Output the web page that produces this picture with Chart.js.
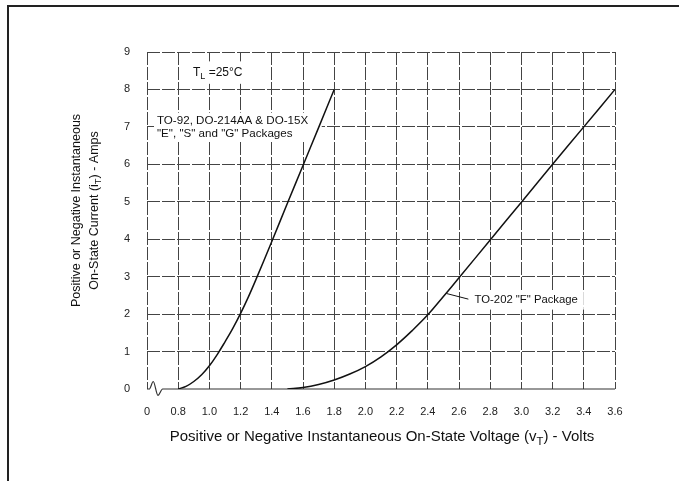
<!DOCTYPE html>
<html lang="en">
<head>
  <meta charset="UTF-8" />
  <title>On-State Current vs Voltage</title>
  <script src="https://cdn.jsdelivr.net/npm/chart.js"></script>
  <style>
    body { margin: 0; background: #fff; }
    .wrap { position: relative; width: 679px; height: 481px; overflow: hidden; }
    .frame {
      position: absolute; left: 7px; top: 5px; width: 700px; height: 500px;
      border-top: 2px solid #222; border-left: 2px solid #222;
    }
    canvas { position: absolute; left: 0; top: 0; }
  </style>
</head>
<body>
  <div class="wrap">
    <div class="frame"></div>
    <canvas id="chart" width="679" height="481"></canvas>
  </div>
  <script>
    // axis ticks (0.6 is the broken-axis origin, labelled "0")
    const xTickValues = [0.6, 0.8, 1.0, 1.2, 1.4, 1.6, 1.8, 2.0, 2.2, 2.4, 2.6, 2.8, 3.0, 3.2, 3.4, 3.6];
    const xTickLabels = ['0', '0.8', '1.0', '1.2', '1.4', '1.6', '1.8', '2.0', '2.2', '2.4', '2.6', '2.8', '3.0', '3.2', '3.4', '3.6'];
    const yTickValues = [0, 1, 2, 3, 4, 5, 6, 7, 8, 9];

    // TO-92, DO-214AA & DO-15X curve
    const smallV = [0.8, 0.85, 0.9, 0.95, 1.0, 1.05, 1.1, 1.15, 1.2, 1.25, 1.3, 1.4, 1.5, 1.6, 1.7, 1.8];
    const smallI = [0, 0.07, 0.2, 0.38, 0.62, 0.92, 1.26, 1.62, 2.02, 2.46, 2.94, 3.94, 4.96, 5.97, 6.98, 8];

    // TO-202 "F" curve
    const to202V = [1.5, 1.6, 1.7, 1.8, 1.9, 2.0, 2.1, 2.2, 2.3, 2.4, 2.5, 2.6, 2.8, 3.0, 3.2, 3.4, 3.6];
    const to202I = [0, 0.04, 0.12, 0.24, 0.4, 0.6, 0.86, 1.18, 1.56, 1.98, 2.47, 2.97, 3.98, 4.99, 6, 7, 8];

    // zero line with the axis-break squiggle
    const zeroV = [0.6, 0.615, 0.64, 0.67, 0.7, 3.6];
    const zeroI = [0, 0, 0.2, -0.17, 0, 0];

    const gridColor = '#444';
    const fontFam = "'Liberation Sans', Arial, sans-serif";

    function pts(xs, ys) { return xs.map((x, i) => ({ x: x, y: ys[i] })); }

    // draw text pieces, some as subscripts: parts = [[text, isSub], ...]
    function richWidth(ctx, parts, size) {
      let w = 0;
      parts.forEach(p => {
        ctx.font = (p[1] ? size * 0.75 : size) + 'px ' + fontFam;
        w += ctx.measureText(p[0]).width;
      });
      return w;
    }
    function drawRich(ctx, parts, x, y, size, align) {
      let cx = align === 'center' ? x - richWidth(ctx, parts, size) / 2 : x;
      ctx.textBaseline = 'middle';
      ctx.textAlign = 'left';
      parts.forEach(p => {
        ctx.font = (p[1] ? size * 0.75 : size) + 'px ' + fontFam;
        ctx.fillText(p[0], cx, p[1] ? y + size * 0.3 : y);
        cx += ctx.measureText(p[0]).width;
      });
    }

    const notes = {
      id: 'notes',
      beforeDatasetsDraw(chart) {
        const ctx = chart.ctx, xs = chart.scales.x, ys = chart.scales.y;
        ctx.save();
        ctx.fillStyle = '#fff';
        // white boxes behind the labels
        const box = (x0, y0, x1, y1) => {
          const l = xs.getPixelForValue(x0), r = xs.getPixelForValue(x1);
          const t = ys.getPixelForValue(y0), b = ys.getPixelForValue(y1);
          ctx.fillRect(l, t, r - l, b - t);
        };
        box(0.87, 8.75, 1.35, 8.15);
        box(0.645, 7.38, 1.72, 6.6);
        box(2.68, 2.6, 3.4, 2.12);

        ctx.fillStyle = '#111';
        drawRich(ctx, [['T', false], ['L', true], [' =25°C', false]],
          xs.getPixelForValue(0.895), ys.getPixelForValue(8.44), 12, 'left');
        drawRich(ctx, [['TO-92, DO-214AA & DO-15X', false]],
          xs.getPixelForValue(0.664), ys.getPixelForValue(7.17), 11.6, 'left');
        drawRich(ctx, [['"E", "S" and "G" Packages', false]],
          xs.getPixelForValue(0.664), ys.getPixelForValue(6.82), 11.6, 'left');
        drawRich(ctx, [['TO-202 "F" Package', false]],
          xs.getPixelForValue(2.7), ys.getPixelForValue(2.37), 11.3, 'left');

        // leader line
        ctx.strokeStyle = '#111';
        ctx.lineWidth = 1;
        ctx.beginPath();
        ctx.moveTo(xs.getPixelForValue(2.52), ys.getPixelForValue(2.55));
        ctx.lineTo(xs.getPixelForValue(2.66), ys.getPixelForValue(2.4));
        ctx.stroke();
        ctx.restore();
      },
      afterDraw(chart) {
        const ctx = chart.ctx, a = chart.chartArea;
        ctx.save();
        ctx.fillStyle = '#111';
        const midY = (a.top + a.bottom) / 2 - 10;
        ctx.translate(a.left - 70, midY);
        ctx.rotate(-Math.PI / 2);
        drawRich(ctx, [['Positive or Negative Instantaneous', false]], 0, 0, 12.5, 'center');
        drawRich(ctx, [['On-State Current (i', false], ['T', true], [') - Amps', false]], 0, 18, 12.5, 'center');
        ctx.restore();
        ctx.save();
        ctx.fillStyle = '#111';
        drawRich(ctx, [['Positive or Negative Instantaneous On-State Voltage (v', false], ['T', true], [') - Volts', false]],
          (a.left + a.right) / 2 + 1, a.bottom + 48, 15, 'center');
        ctx.restore();
      }
    };

    new Chart(document.getElementById('chart'), {
      type: 'scatter',
      data: {
        datasets: [
          {
            label: 'TO-92, DO-214AA & DO-15X',
            data: pts(smallV, smallI),
            showLine: true, borderColor: '#111', borderWidth: 1.5,
            pointRadius: 0, tension: 0.4
          },
          {
            label: 'TO-202 "F" Package',
            data: pts(to202V, to202I),
            showLine: true, borderColor: '#111', borderWidth: 1.5,
            pointRadius: 0, tension: 0.4
          },
          {
            label: 'zero',
            data: pts(zeroV, zeroI),
            showLine: true, borderColor: '#333', borderWidth: 1.2,
            pointRadius: 0, cubicInterpolationMode: 'monotone', clip: false
          }
        ]
      },
      options: {
        responsive: false,
        animation: false,
        events: [],
        layout: { padding: { top: 52, right: 64, left: 0, bottom: 0 } },
        plugins: { legend: { display: false }, tooltip: { enabled: false } },
        scales: {
          x: {
            type: 'linear', min: 0.6, max: 3.6,
            afterFit: s => { s.height = 92; },
            afterBuildTicks: s => { s.ticks = xTickValues.map(v => ({ value: v })); },
            ticks: {
              padding: 16, color: '#222', font: { family: fontFam, size: 11 },
              maxRotation: 0, autoSkip: false,
              callback: (v, i) => xTickLabels[i]
            },
            grid: { color: gridColor, lineWidth: 1, drawTicks: false },
            border: { display: false, dash: [13, 2] }
          },
          y: {
            min: 0, max: 9,
            afterFit: s => { s.width = 147; },
            afterBuildTicks: s => { s.ticks = yTickValues.map(v => ({ value: v })); },
            ticks: {
              padding: 17, color: '#222', font: { family: fontFam, size: 11 },
              callback: v => String(v)
            },
            grid: {
              color: c => (c.tick && c.tick.value === 0 ? 'rgba(0,0,0,0)' : gridColor),
              lineWidth: 1, drawTicks: false
            },
            border: { display: false, dash: [13, 2] }
          }
        }
      },
      plugins: [notes]
    });
  </script>
</body>
</html>
